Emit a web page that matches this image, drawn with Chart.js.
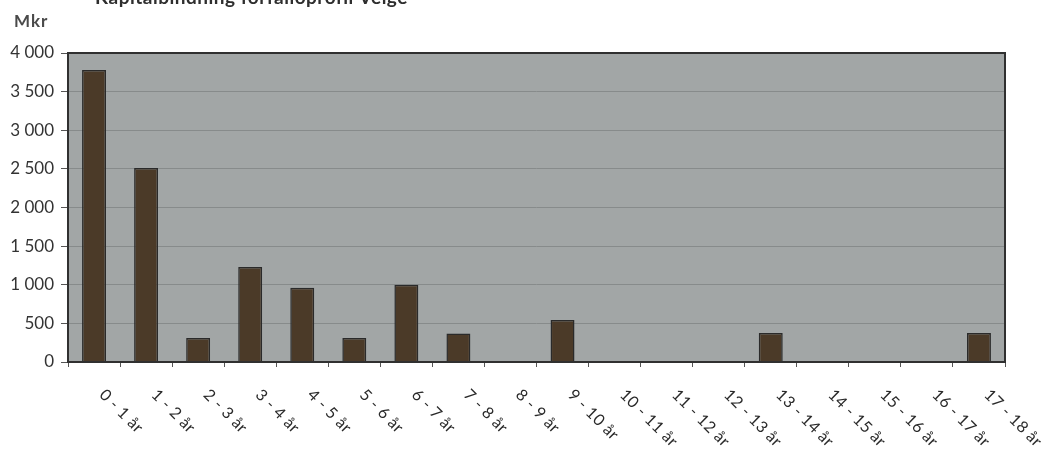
<!DOCTYPE html>
<html><head><meta charset="utf-8">
<script src="https://cdn.jsdelivr.net/npm/chart.js@4/dist/chart.umd.min.js"></script>
<style>html,body{margin:0;padding:0;background:#fff}#wrap{width:1055px;height:452px;position:relative}</style>
</head><body><div id="wrap"><canvas id="c"></canvas></div>
<script>
const categories = ["0 - 1 år","1 - 2 år","2 - 3 år","3 - 4 år","4 - 5 år","5 - 6 år","6 - 7 år","7 - 8 år","8 - 9 år","9 - 10 år","10 - 11 år","11 - 12 år","12 - 13 år","13 - 14 år","14 - 15 år","15 - 16 år","16 - 17 år","17 - 18 år"];
const values = [3780, 2510, 310, 1230, 960, 310, 1000, 370, 0, 545, 0, 0, 0, 375, 0, 0, 0, 375];
const yTicks = [0, 500, 1000, 1500, 2000, 2500, 3000, 3500, 4000];
const titleText = "Kapitalbindning förfalloprofil Velge";
const unitText = "Mkr";

const FONT = "Lato, 'Open Sans', sans-serif";

const decor = {
  id: 'decor',
  beforeDraw(chart) {
    const {ctx, chartArea: a} = chart;
    ctx.save();
    ctx.fillStyle = '#a2a6a6';
    ctx.fillRect(a.left, a.top, a.right - a.left, a.bottom - a.top);
    ctx.restore();
  },
  afterDraw(chart) {
    const {ctx, chartArea: a} = chart;
    ctx.save();
    ctx.strokeStyle = '#303030';
    ctx.lineWidth = 2;
    ctx.strokeRect(a.left, a.top, a.right - a.left, a.bottom - a.top);
    // title (cut at top)
    ctx.fillStyle = '#2e2e2e';
    ctx.font = "bold 19px " + FONT;
    ctx.textBaseline = 'alphabetic';
    ctx.textAlign = 'left';
    ctx.letterSpacing = '0.5px';
    ctx.fillText(titleText, 95, 4);
    ctx.fillStyle = '#4a4a4a';
    ctx.font = "bold 17px " + FONT;
    ctx.letterSpacing = '1px';
    ctx.fillText(unitText, 14, 27);
    // x labels rotated clockwise
    const xs = chart.scales.x;
    ctx.fillStyle = '#2a2a2a';
    ctx.font = "16px " + FONT;
    ctx.textBaseline = 'middle';
    ctx.letterSpacing = '0.5px';
    categories.forEach((lab, i) => {
      const x = xs.getPixelForValue(i);
      ctx.save();
      ctx.translate(x + 8, a.bottom + 30);
      ctx.rotate(Math.PI / 4);
      ctx.fillText(lab, 0, 0);
      ctx.restore();
    });
    ctx.restore();
  }
};

new Chart(document.getElementById('c'), {
  type: 'bar',
  data: {
    labels: categories,
    datasets: [{
      data: values,
      backgroundColor: '#4b3a28',
      borderColor: '#2a2a2a',
      borderWidth: 1.5,
      barPercentage: 0.46,
      categoryPercentage: 1.0
    }]
  },
  options: {
    responsive: true,
    maintainAspectRatio: false,
    animation: false,
    layout: {padding: {top: 53, right: 50, bottom: 90, left: 0}},
    plugins: {legend: {display: false}, tooltip: {enabled: false}, title: {display: false}},
    scales: {
      x: {
        offset: true,
        grid: {offset: true, drawOnChartArea: false, drawTicks: true, tickLength: 5, color: '#555'},
        border: {display: false},
        ticks: {display: false},
        afterFit(s) { s.height = 0; }
      },
      y: {
        min: 0, max: 4000,
        afterBuildTicks(s) { s.ticks = yTicks.map(v => ({value: v})); },
        grid: {color: '#878b8b', lineWidth: 1, tickLength: 7, drawTicks: true, tickColor: '#555'},
        border: {display: false},
        ticks: {
          padding: 7,
          color: '#333',
          font: {family: FONT, size: 17},
          callback: v => String(v).replace(/\B(?=(\d{3})+(?!\d))/g, ' ')
        },
        afterFit(s) { s.width = 68; }
      }
    }
  },
  plugins: [decor]
});
</script></body></html>
